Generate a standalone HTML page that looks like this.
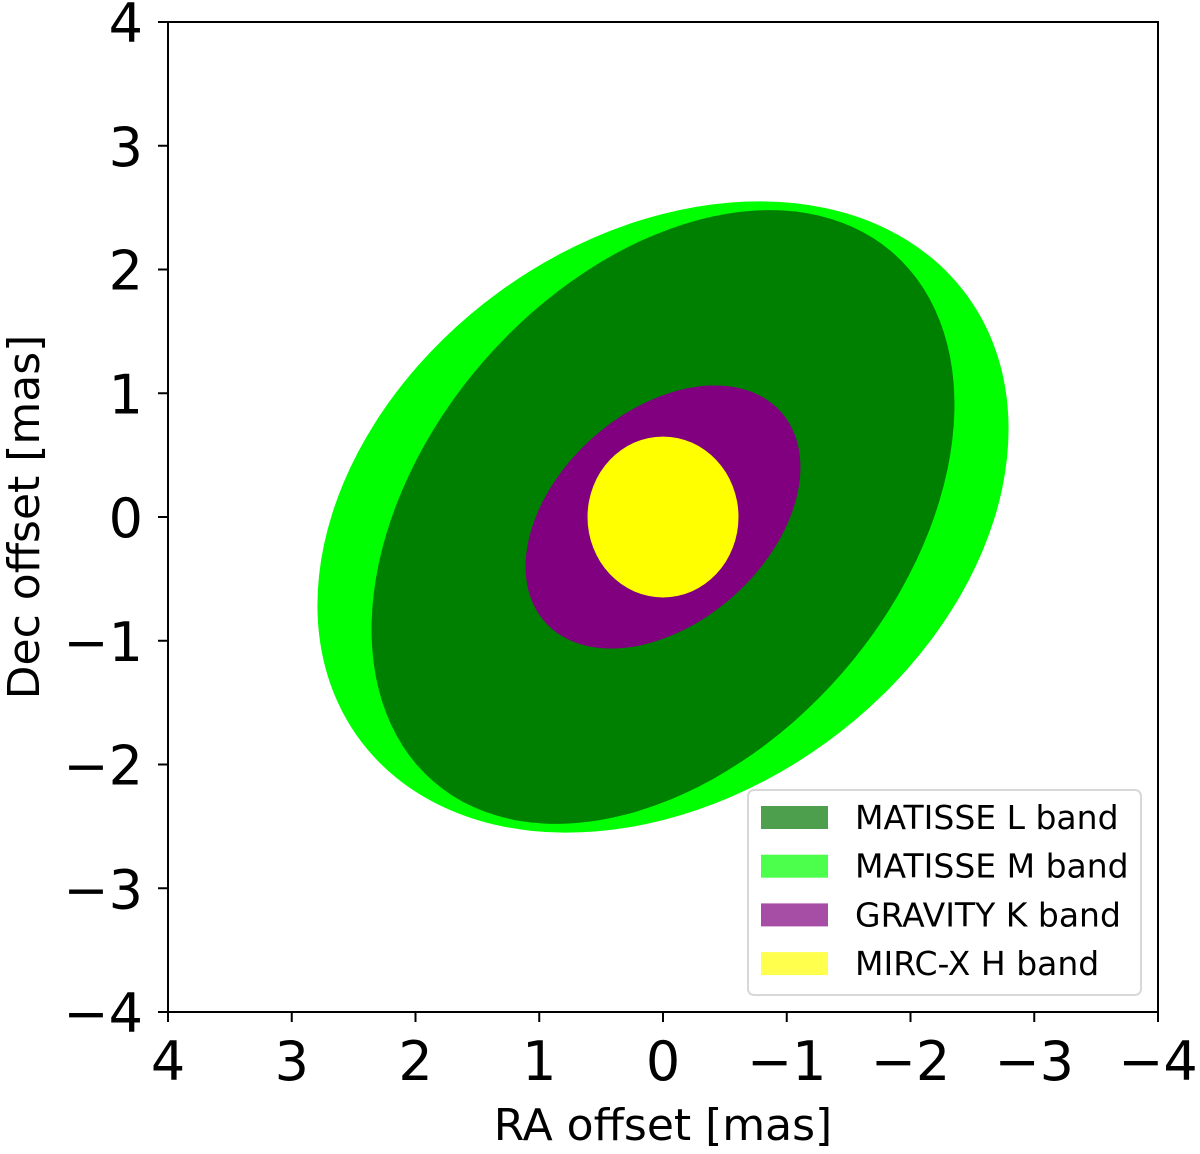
<!DOCTYPE html>
<html><head><meta charset="utf-8"><style>
body{margin:0;background:#fff}
svg text{font-family:"DejaVu Sans","Liberation Sans",sans-serif;fill:#000}
</style></head><body>
<svg id="chart" width="1200" height="1149" xmlns="http://www.w3.org/2000/svg">
<g id="marks"></g>
<g id="axes"></g>
<g id="legend"></g>
</svg>
<script>
const bands = ["MATISSE M band","MATISSE L band","GRAVITY K band","MIRC-X H band"];
const semiMajor = [3.04, 2.83, 1.277, 0.65];
const semiMinor = [2.25, 1.92, 0.856, 0.61];
const angles = [36, 49, 41.7, 90];
const colors = ["#00ff00","#008000","#800080","#ffff00"];
const legendLabels = ["MATISSE L band","MATISSE M band","GRAVITY K band","MIRC-X H band"];
const legendColors = ["#4d9e4d","#4dff4d","#a64da6","#ffff4d"];
const xTicks = [4,3,2,1,0,-1,-2,-3,-4];
const yTicks = [4,3,2,1,0,-1,-2,-3,-4];

const L=168,R=1158,T=22,B=1012;
const sx = v => L + (4 - v) / 8 * (R - L);
const sy = v => T + (4 - v) / 8 * (B - T);
const ppu = (R - L) / 8;
const NS="http://www.w3.org/2000/svg";
function mk(tag, attrs, parent){const e=document.createElementNS(NS,tag);for(const k in attrs)e.setAttribute(k,attrs[k]);parent.appendChild(e);return e;}
const marks=document.getElementById('marks'), axes=document.getElementById('axes'), legend=document.getElementById('legend');
const fmt = v => v<0 ? "\u2212"+(-v) : String(v);

bands.forEach((b,i)=>{
  const e=mk('ellipse',{cx:sx(0),cy:sy(0),rx:semiMajor[i]*ppu,ry:semiMinor[i]*ppu,fill:colors[i],transform:`rotate(${-angles[i]} ${sx(0)} ${sy(0)})`},marks);
  
  
});

const frame=mk('rect',{x:L,y:T,width:R-L,height:B-T,fill:'none',stroke:'#000','stroke-width':2},axes);



xTicks.forEach(v=>{
  const x=sx(v);
  const t=mk('line',{x1:x,y1:B,x2:x,y2:B+10,stroke:'#000','stroke-width':2},axes);
  
  
  const l=mk('text',{x:x,y:1080,'text-anchor':'middle','font-size':54},axes);
  l.textContent=fmt(v);
  
  
});
yTicks.forEach(v=>{
  const y=sy(v);
  const t=mk('line',{x1:L-10,y1:y,x2:L,y2:y,stroke:'#000','stroke-width':2},axes);
  
  
  const l=mk('text',{x:143,y:y+20,'text-anchor':'end','font-size':54},axes);
  l.textContent=fmt(v);
  
  
});
const xt=mk('text',{x:663,y:1140,'text-anchor':'middle','font-size':44},axes);
xt.textContent="RA offset [mas]";


const yt=mk('text',{x:0,y:0,'text-anchor':'middle','font-size':44,transform:'translate(39 517) rotate(-90)'},axes);
yt.textContent="Dec offset [mas]";



const box=mk('rect',{x:748,y:790,width:393,height:205,rx:6,fill:'#fff','fill-opacity':0.85,stroke:'#d8d8d8','stroke-width':2},legend);


legendLabels.forEach((lab,i)=>{
  const y=806+i*48.7;
  const p=mk('rect',{x:761,y:y,width:67,height:23,fill:legendColors[i]},legend);
  
  
  const t=mk('text',{x:855,y:y+23,'font-size':33},legend);
  t.textContent=lab;
  
  
});
</script>
</body></html>
